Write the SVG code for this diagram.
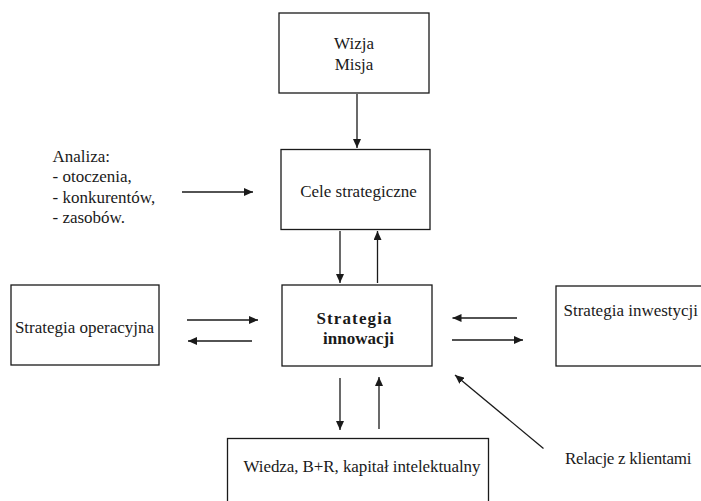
<svg xmlns="http://www.w3.org/2000/svg" width="701" height="501" viewBox="0 0 701 501" font-family="'Liberation Serif', 'Times New Roman', serif">
<style>
.box{fill:#fff;stroke:#1a1a1a;stroke-width:1.3}
.t{font-size:17px;fill:#1a1a1a}
.b{font-weight:bold}
.c{stroke:#1a1a1a;stroke-width:1.3;fill:none;marker-end:url(#ah)}
</style>
<defs>
<marker id="ah" markerUnits="userSpaceOnUse" markerWidth="10" markerHeight="8" refX="9" refY="4" orient="auto">
<path d="M0,0 L9,4 L0,8 Z" fill="#1a1a1a"/>
</marker>
</defs>
<rect width="701" height="501" fill="#fff"/>
<g id="wizja"><rect class="box" x="279" y="13" width="150" height="80"/>
<text class="t" x="354" y="49" text-anchor="middle">Wizja</text>
<text class="t" x="354" y="70" text-anchor="middle">Misja</text></g>
<g id="cele"><rect class="box" x="281" y="149.5" width="149" height="80"/>
<text class="t" x="358.5" y="197" text-anchor="middle">Cele strategiczne</text></g>
<g id="analiza">
<text class="t" x="52.5" y="161.5">Analiza:</text>
<text class="t" x="52.5" y="182">- otoczenia,</text>
<text class="t" x="52.5" y="203">- konkurentów,</text>
<text class="t" x="52.5" y="223">- zasobów.</text></g>
<g id="operacyjna"><rect class="box" x="11" y="285" width="148" height="80"/>
<text class="t" x="84.5" y="333" text-anchor="middle">Strategia operacyjna</text></g>
<g id="innowacji"><rect class="box" x="282" y="285" width="150" height="81"/>
<text class="t b" x="316.5" y="323.5" textLength="75" lengthAdjust="spacing">Strategia</text>
<text class="t b" x="358.5" y="344" text-anchor="middle">innowacji</text></g>
<g id="inwestycji"><rect class="box" x="556" y="286" width="160" height="80"/>
<text class="t" x="563.5" y="315.5">Strategia inwestycji</text></g>
<g id="wiedza"><rect class="box" x="227.5" y="438.5" width="261" height="80"/>
<text class="t" x="243.5" y="471.5" textLength="237" lengthAdjust="spacing">Wiedza, B+R, kapitał intelektualny</text></g>
<g id="relacje"><text class="t" x="565" y="464" textLength="126.5" lengthAdjust="spacing">Relacje z klientami</text></g>
<g id="connectors">
<line class="c" x1="357" y1="94" x2="357" y2="148"/>
<line class="c" x1="182" y1="192" x2="253" y2="192"/>
<line class="c" x1="340" y1="231" x2="340" y2="283"/>
<line class="c" x1="377.5" y1="283" x2="377.5" y2="231"/>
<line class="c" x1="187" y1="320" x2="258" y2="320"/>
<line class="c" x1="252" y1="341" x2="188" y2="341"/>
<line class="c" x1="517" y1="318" x2="452.5" y2="318"/>
<line class="c" x1="452" y1="340" x2="523" y2="340"/>
<line class="c" x1="340" y1="378" x2="340" y2="430"/>
<line class="c" x1="379" y1="429" x2="379" y2="377"/>
<line class="c" x1="543.5" y1="448.5" x2="455" y2="375"/>
</g>
</svg>
